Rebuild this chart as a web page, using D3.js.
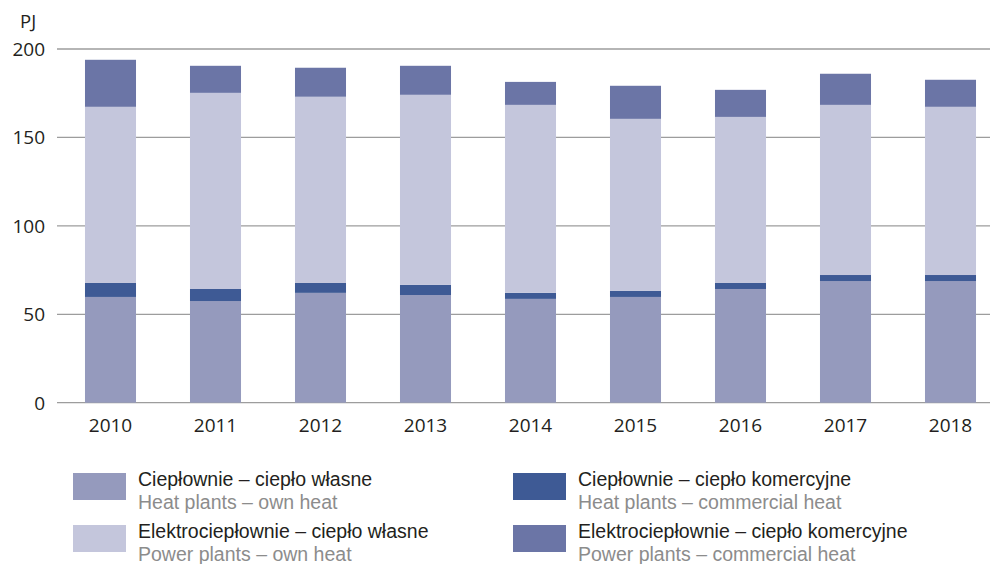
<!DOCTYPE html>
<html>
<head>
<meta charset="utf-8">
<script src="https://cdn.jsdelivr.net/npm/d3@7"></script>
<style>
  html, body { margin: 0; padding: 0; background: #fff; }
  svg { display: block; font-family: "Open Sans", "Noto Sans", sans-serif; }
  .legend text { font-family: "Liberation Sans", Arial, sans-serif; }
</style>
</head>
<body>
<svg id="chart" width="990" height="564"></svg>
<script>
const years = ["2010","2011","2012","2013","2014","2015","2016","2017","2018"];
const heatOwn        = [59.8, 57.5, 62.1, 60.9, 58.7, 59.8, 64.3, 68.8, 68.8];
const heatCommercial = [7.9, 6.8, 5.6, 5.7, 3.4, 3.4, 3.4, 3.4, 3.4];
const powerOwn       = [99.6, 110.9, 105.3, 107.5, 106.3, 97.3, 93.9, 96.2, 95.1];
const powerCommercial= [26.6, 15.3, 16.4, 16.4, 13.0, 18.7, 15.3, 17.6, 15.3];
const yTicks = [0, 50, 100, 150, 200];
const unitLabel = "PJ";
const seriesKeys = ["heatOwn", "heatCommercial", "powerOwn", "powerCommercial"];
const seriesColors = ["#959abd", "#3e5a95", "#c4c6dc", "#6b75a6"];
const legendPl = ["Ciepłownie – ciepło własne", "Ciepłownie – ciepło komercyjne",
                  "Elektrociepłownie – ciepło własne", "Elektrociepłownie – ciepło komercyjne"];
const legendEn = ["Heat plants – own heat", "Heat plants – commercial heat",
                  "Power plants – own heat", "Power plants – commercial heat"];

const table = years.map((y, i) => ({
  year: y,
  heatOwn: heatOwn[i],
  heatCommercial: heatCommercial[i],
  powerOwn: powerOwn[i],
  powerCommercial: powerCommercial[i]
}));

const svg = d3.select("#chart");

const x = d3.scaleBand().domain(years).range([58, 1003]).paddingInner(0.514).paddingOuter(0.257);
const y = d3.scaleLinear().domain([0, 200]).range([402.7, 49]);

// gridlines
svg.append("g").selectAll("line").data(yTicks).join("line")
  .attr("x1", 57).attr("x2", 990)
  .attr("y1", d => y(d)).attr("y2", d => y(d))
  .attr("stroke", "#9d9d9d").attr("stroke-width", 1.3);

// y tick labels
svg.append("g").selectAll("text").data(yTicks).join("text")
  .attr("x", 45).attr("y", d => y(d) + 6.8)
  .attr("text-anchor", "end")
  .attr("font-size", 19).attr("fill", "#231f20")
  .text(d => d);

svg.append("text").attr("x", 20).attr("y", 28)
  .attr("font-size", 18.5).attr("fill", "#231f20").text(unitLabel);

// stacked bars
const stack = d3.stack().keys(seriesKeys)(table);
svg.append("g").selectAll("g").data(stack).join("g")
  .attr("fill", (d, i) => seriesColors[i])
  .selectAll("rect").data(d => d).join("rect")
  .attr("x", d => x(d.data.year))
  .attr("width", x.bandwidth())
  .attr("y", d => y(d[1]))
  .attr("height", d => y(d[0]) - y(d[1]));

// x labels
svg.append("g").selectAll("text").data(years).join("text")
  .attr("x", d => x(d) + x.bandwidth() / 2)
  .attr("y", 432)
  .attr("text-anchor", "middle")
  .attr("font-size", 19).attr("fill", "#231f20")
  .text(d => d);

// legend
const legendPos = [[73, 473], [513, 473], [73, 525], [513, 525]];
const lg = svg.append("g").attr("class", "legend").selectAll("g").data(seriesKeys).join("g")
  .attr("transform", (d, i) => `translate(${legendPos[i][0]},${legendPos[i][1]})`);
lg.append("rect").attr("width", 53).attr("height", 27)
  .attr("fill", (d, i) => seriesColors[i]);
lg.append("text").attr("x", 65).attr("y", 13)
  .attr("font-size", 19.5).attr("fill", "#231f20")
  .text((d, i) => legendPl[i]);
lg.append("text").attr("x", 65).attr("y", 36)
  .attr("font-size", 19.5).attr("fill", "#8c8c8c")
  .text((d, i) => legendEn[i]);
</script>
</body>
</html>
